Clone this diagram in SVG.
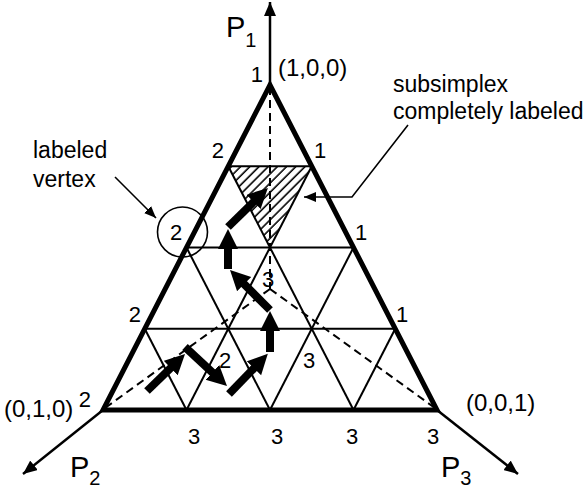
<svg xmlns="http://www.w3.org/2000/svg" width="586" height="492" viewBox="0 0 586 492">
<style>
text{font-family:"Liberation Sans",Arial,Helvetica,sans-serif;fill:#000}
.lbl{font-size:22px}
.txt{font-size:23px}
.crd{font-size:24px}
.big{font-size:29px}
.sub{font-size:20px}
.outer{fill:none;stroke:#000;stroke-width:5;stroke-linejoin:miter}
.grid{stroke:#000;stroke-width:2;fill:none}
.dash{stroke:#000;stroke-width:2;fill:none;stroke-dasharray:8 5}
.axis{stroke:#000;stroke-width:2.5;fill:none}
.thin{stroke:#000;stroke-width:1.6;fill:none}
.fat{stroke:#000;stroke-width:8;fill:none}
</style>
<defs>
<pattern id="hatch" width="6.5" height="10" patternUnits="userSpaceOnUse" patternTransform="rotate(45)">
<line x1="2" y1="0" x2="2" y2="10" stroke="#000" stroke-width="1.6"/>
</pattern>
<marker id="axhead" markerUnits="userSpaceOnUse" markerWidth="16" markerHeight="12" refX="14" refY="6" orient="auto">
<path d="M0,0 L14,6 L0,12 z" fill="#000"/>
</marker>
<marker id="thinhead" markerUnits="userSpaceOnUse" markerWidth="14" markerHeight="10" refX="12" refY="5" orient="auto">
<path d="M0,0 L12,5 L0,10 z" fill="#000"/>
</marker>
<marker id="fathead" markerUnits="userSpaceOnUse" markerWidth="22" markerHeight="22" refX="7" refY="10" orient="auto">
<path d="M0,0 L20,10 L0,20 z" fill="#000"/>
</marker>
</defs>

<g id="simplex">
<polygon points="228.25,166.25 311.75,166.25 270,247.5" fill="url(#hatch)"/>
<g id="grid-lines">
<line class="grid" x1="228.25" y1="166.25" x2="311.75" y2="166.25"/>
<line class="grid" x1="186.5" y1="247.5" x2="353.5" y2="247.5"/>
<line class="grid" x1="144.75" y1="328.75" x2="395.25" y2="328.75"/>
<line class="grid" x1="186.5" y1="410" x2="311.75" y2="166.25"/>
<line class="grid" x1="270" y1="410" x2="353.5" y2="247.5"/>
<line class="grid" x1="353.5" y1="410" x2="395.25" y2="328.75"/>
<line class="grid" x1="353.5" y1="410" x2="228.25" y2="166.25"/>
<line class="grid" x1="270" y1="410" x2="186.5" y2="247.5"/>
<line class="grid" x1="186.5" y1="410" x2="144.75" y2="328.75"/>
</g>
<g id="dashed-lines">
<line class="dash" x1="270" y1="87" x2="270" y2="289"/>
<line class="dash" x1="270" y1="289" x2="105" y2="408"/>
<line class="dash" x1="270" y1="289" x2="435" y2="408"/>
</g>
<polygon class="outer" points="270,85 103,410 437,410"/>
</g>

<g id="axes">
<line class="axis" x1="270" y1="85" x2="270" y2="2" marker-end="url(#axhead)"/>
<line class="axis" x1="103" y1="410" x2="23" y2="474" marker-end="url(#axhead)"/>
<line class="axis" x1="437" y1="410" x2="518" y2="474" marker-end="url(#axhead)"/>
</g>

<g id="path-arrows">
<line class="fat" x1="147" y1="391" x2="175.7" y2="363.1" marker-end="url(#fathead)"/>
<line class="fat" x1="185" y1="347" x2="217.5" y2="377.2" marker-end="url(#fathead)"/>
<line class="fat" x1="229" y1="394" x2="258.8" y2="363.2" marker-end="url(#fathead)"/>
<line class="fat" x1="270" y1="352" x2="270" y2="324" marker-end="url(#fathead)"/>
<line class="fat" x1="270" y1="310" x2="239.2" y2="279.2" marker-end="url(#fathead)"/>
<line class="fat" x1="228" y1="269" x2="228" y2="242" marker-end="url(#fathead)"/>
<line class="fat" x1="228" y1="227" x2="258.6" y2="197" marker-end="url(#fathead)"/>
</g>

<g id="callouts">
<polyline class="thin" points="408,125 352,197 304,197" marker-end="url(#thinhead)"/>
<line class="thin" x1="115" y1="177" x2="156" y2="218" marker-end="url(#thinhead)"/>
<circle class="thin" cx="182.5" cy="232" r="25"/>
</g>

<g id="labels">
<text class="big" x="226" y="37">P<tspan class="sub" dy="10">1</tspan></text>
<text class="big" x="70" y="477">P<tspan class="sub" dy="8">2</tspan></text>
<text class="big" x="441" y="477">P<tspan class="sub" dy="8">3</tspan></text>
<text class="lbl" x="263" y="82" text-anchor="end">1</text>
<text class="crd" x="278" y="76">(1,0,0)</text>
<text class="crd" x="4" y="417">(0,1,0)</text>
<text class="crd" x="466" y="411">(0,0,1)</text>
<text class="lbl" x="224" y="158" text-anchor="end">2</text>
<text class="lbl" x="314" y="158">1</text>
<text class="lbl" x="176" y="240" text-anchor="middle">2</text>
<text class="lbl" x="355" y="240">1</text>
<text class="lbl" x="141" y="322" text-anchor="end">2</text>
<text class="lbl" x="396" y="322">1</text>
<text class="lbl" x="91" y="407" text-anchor="end">2</text>
<text class="lbl" x="194" y="444" text-anchor="middle">3</text>
<text class="lbl" x="277" y="444" text-anchor="middle">3</text>
<text class="lbl" x="352" y="444" text-anchor="middle">3</text>
<text class="lbl" x="433" y="444" text-anchor="middle">3</text>
<text class="lbl" x="268" y="287" text-anchor="middle">3</text>
<text class="lbl" x="225" y="368" text-anchor="middle">2</text>
<text class="lbl" x="309" y="368" text-anchor="middle">3</text>
<text class="txt" x="33" y="158">labeled</text>
<text class="txt" x="33" y="187">vertex</text>
<text class="txt" x="393" y="92">subsimplex</text>
<text class="txt" x="393" y="119">completely labeled</text>
</g>
</svg>
